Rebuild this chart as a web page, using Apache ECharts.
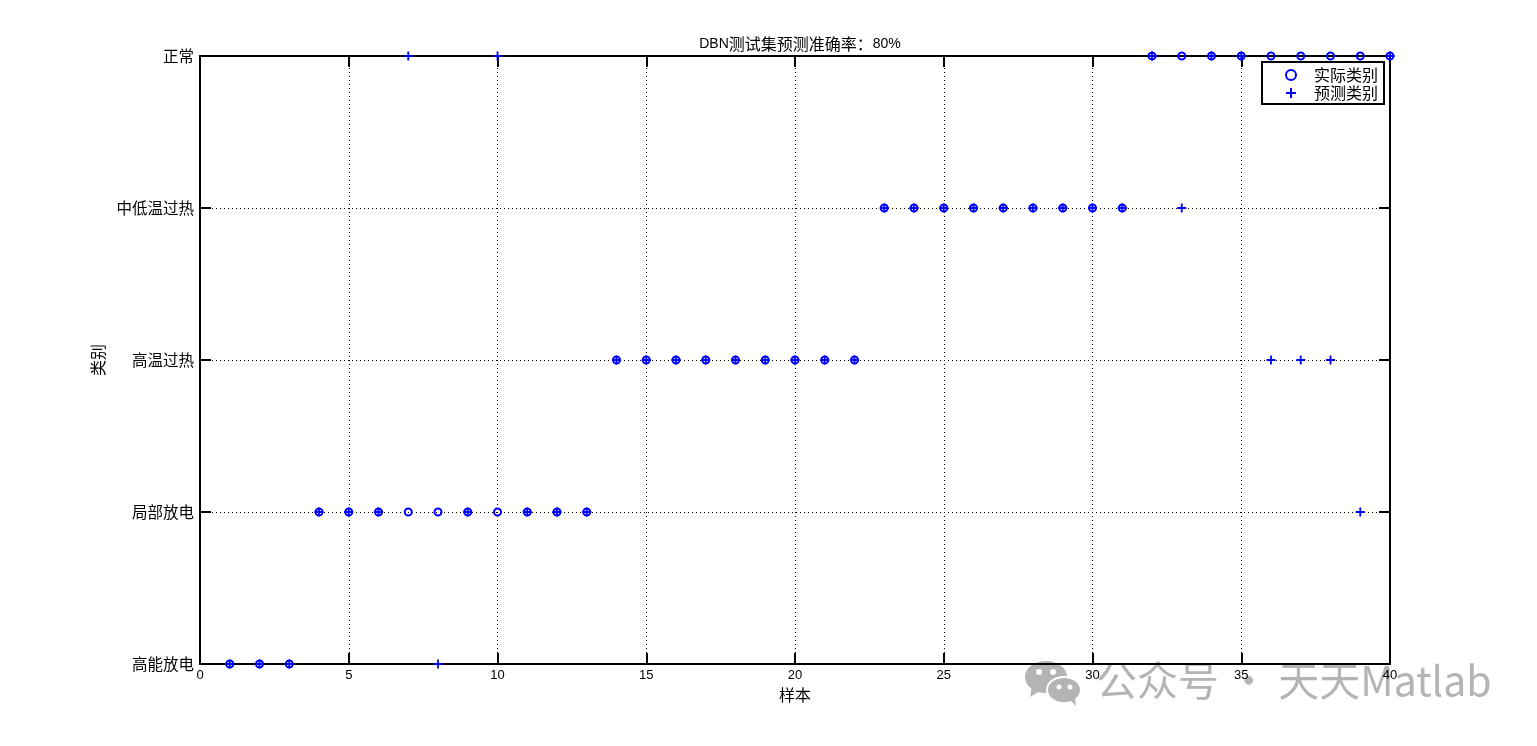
<!DOCTYPE html>
<html>
<head>
<meta charset="utf-8">
<title>DBN测试集预测准确率</title>
<script src="https://cdn.jsdelivr.net/npm/echarts@6/dist/echarts.min.js"></script>
<style>
  html, body { margin: 0; padding: 0; background: #fff; }
  #chart { width: 1537px; height: 746px; }
</style>
</head>
<body>
<div id="chart"></div>
<script>
// 样本编号
const samples = [1, 2, 3, 4, 5, 6, 7, 8, 9, 10, 11, 12, 13, 14, 15, 16, 17, 18, 19, 20,
  21, 22, 23, 24, 25, 26, 27, 28, 29, 30, 31, 32, 33, 34, 35, 36, 37, 38, 39, 40]
// 实际类别
const actualClass = [1, 1, 1, 2, 2, 2, 2, 2, 2, 2, 2, 2, 2, 3, 3, 3, 3, 3, 3, 3,
  3, 3, 4, 4, 4, 4, 4, 4, 4, 4, 4, 5, 5, 5, 5, 5, 5, 5, 5, 5]
// 预测类别
const predictClass = [1, 1, 1, 2, 2, 2, 5, 1, 2, 5, 2, 2, 2, 3, 3, 3, 3, 3, 3, 3,
  3, 3, 4, 4, 4, 4, 4, 4, 4, 4, 4, 5, 4, 5, 5, 3, 3, 3, 2, 5]
// 类别名称
const classNames = ['高能放电', '局部放电', '高温过热', '中低温过热', '正常']
const xTicks = [0, 40, 5]

const font = '"Liberation Sans", "Noto Sans CJK SC", sans-serif'
const cjk = '"Noto Sans CJK SC", sans-serif'
const blue = '#0000ff'
const wmGray = '#b4b4b4'
const plusPath = 'path://M4,0H6V4H10V6H6V10H4V6H0V4H4Z'

const chart = echarts.init(document.getElementById('chart'))

const axisCommon = {
  axisLine: { show: true, onZero: false, lineStyle: { color: '#000', width: 2 } },
  axisTick: { show: true, inside: true, length: 11, lineStyle: { color: '#000', width: 2 } }
}

const option = {
  animation: false,
  title: {
    text: '{a|DBN}{b|测试集预测准确率：}{a|80%}',
    left: 795,
    top: 31,
    textAlign: 'center',
    textStyle: {
      fontWeight: 'normal',
      rich: {
        a: { fontFamily: font, fontSize: 14, fontWeight: 'normal', color: '#000' },
        b: { fontFamily: cjk, fontSize: 16, fontWeight: 'normal', color: '#000' }
      }
    }
  },
  legend: {
    orient: 'vertical',
    right: 153,
    top: 62,
    padding: [5, 6, 3, 23],
    itemGap: 2,
    itemWidth: 10,
    itemHeight: 10,
    borderColor: '#000',
    borderWidth: 2,
    borderRadius: 0,
    backgroundColor: '#fff',
    textStyle: { fontFamily: cjk, fontSize: 16, color: '#000', padding: [0, 0, 0, 13] },
    data: [
      { name: '实际类别', icon: 'circle', itemStyle: { color: 'transparent', borderColor: blue, borderWidth: 2 } },
      { name: '预测类别', icon: plusPath, itemStyle: { color: blue, borderWidth: 0 } }
    ]
  },
  grid: { left: 200, right: 147, top: 56, bottom: 82 },
  xAxis: [
    {
      ...axisCommon,
      type: 'value',
      min: xTicks[0],
      max: xTicks[1],
      interval: xTicks[2],
      name: '样本',
      nameLocation: 'middle',
      nameGap: 21,
      nameTextStyle: { fontFamily: cjk, fontSize: 16, color: '#000' },
      axisLabel: { fontFamily: font, fontSize: 13, color: '#000', margin: 5 },
      splitLine: { show: true, lineStyle: { color: '#000', type: [1, 3], width: 1 } }
    },
    {
      ...axisCommon,
      type: 'value',
      position: 'top',
      min: xTicks[0],
      max: xTicks[1],
      interval: xTicks[2],
      axisLabel: { show: false },
      splitLine: { show: false }
    }
  ],
  yAxis: [
    {
      ...axisCommon,
      type: 'value',
      min: 1,
      max: 5,
      interval: 1,
      name: '类别',
      nameLocation: 'middle',
      nameGap: 92,
      nameRotate: 90,
      nameTextStyle: { fontFamily: cjk, fontSize: 16, color: '#000' },
      axisLabel: {
        fontFamily: cjk, fontSize: 15.5, color: '#000', margin: 6,
        formatter: v => classNames[v - 1] || ''
      },
      splitLine: { show: true, lineStyle: { color: '#000', type: [1, 3], width: 1 } }
    },
    {
      ...axisCommon,
      type: 'value',
      position: 'right',
      min: 1,
      max: 5,
      interval: 1,
      axisLabel: { show: false },
      splitLine: { show: false }
    }
  ],
  // 水印（置于坐标轴文字之下）
  graphic: [
    { type: 'ellipse', z: -10, shape: { cx: 1046, cy: 677, rx: 21, ry: 16 }, style: { fill: wmGray } },
    { type: 'polygon', z: -10, shape: { points: [[1032, 686], [1030, 697], [1042, 690]] }, style: { fill: wmGray } },
    { type: 'circle', z: -9, shape: { cx: 1039, cy: 672, r: 3 }, style: { fill: '#fff' } },
    { type: 'circle', z: -9, shape: { cx: 1053, cy: 672, r: 3 }, style: { fill: '#fff' } },
    { type: 'ellipse', z: -8, shape: { cx: 1064, cy: 690, rx: 17, ry: 13 }, style: { fill: wmGray, stroke: '#fff', lineWidth: 2 } },
    { type: 'polygon', z: -8, shape: { points: [[1070, 700], [1076, 706], [1075, 697]] }, style: { fill: wmGray } },
    { type: 'circle', z: -7, shape: { cx: 1059, cy: 687, r: 2.5 }, style: { fill: '#fff' } },
    { type: 'circle', z: -7, shape: { cx: 1070, cy: 687, r: 2.5 }, style: { fill: '#fff' } },
    {
      type: 'text',
      left: 1096,
      top: 660,
      z: -10,
      style: {
        text: '公众号 · 天天Matlab',
        fontFamily: cjk,
        fontSize: 41,
        fill: wmGray
      }
    }
  ],
  series: [
    {
      name: '实际类别',
      type: 'scatter',
      clip: false,
      symbol: 'circle',
      symbolSize: 7,
      itemStyle: { color: 'transparent', borderColor: blue, borderWidth: 2, opacity: 1 },
      data: samples.map((s, i) => [s, actualClass[i]]),
      z: 3
    },
    {
      name: '预测类别',
      type: 'scatter',
      clip: false,
      symbol: plusPath,
      symbolSize: 9,
      itemStyle: { color: blue, borderWidth: 0, opacity: 1 },
      data: samples.map((s, i) => [s, predictClass[i]]),
      z: 4
    }
  ]
}

chart.setOption(option)
</script>
</body>
</html>
